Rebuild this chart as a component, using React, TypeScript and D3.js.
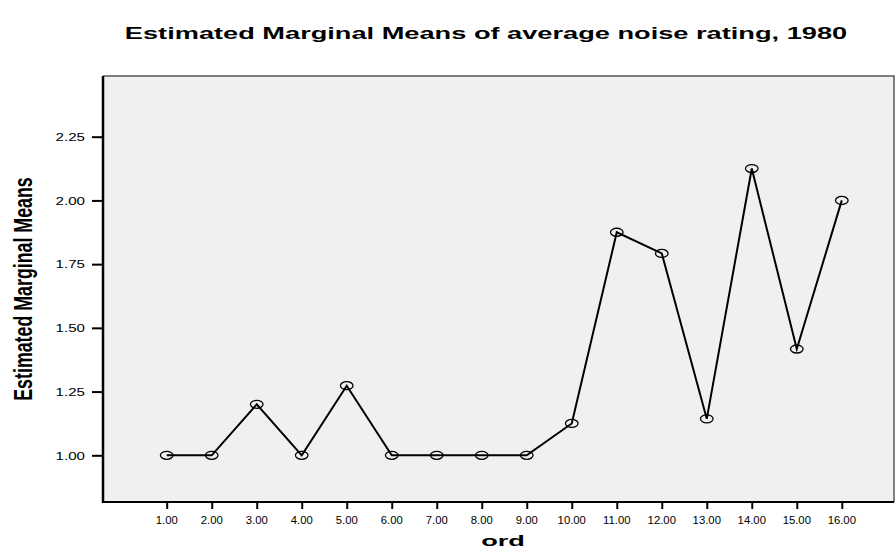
import * as React from "react";
import * as d3 from "d3";

// ord levels and estimated marginal means
const ordLevels: number[] = [1, 2, 3, 4, 5, 6, 7, 8, 9, 10, 11, 12, 13, 14, 15, 16];
const marginalMeans: number[] = [1.0, 1.0, 1.2, 1.0, 1.273, 1.0, 1.0, 1.0, 1.0, 1.125, 1.875, 1.792, 1.143, 2.125, 1.417, 2.0];
const yTickValues: number[] = [1.0, 1.25, 1.5, 1.75, 2.0, 2.25];

const titleText: string = "Estimated Marginal Means of average noise rating, 1980";
const yLabelText: string = "Estimated Marginal Means";
const xLabelText: string = "ord";

type Frame = {
  left: number;
  right: number;
  top: number;
  bottom: number;
};

const FONT: string = "'Liberation Sans', Arial, sans-serif";

export default class App extends React.PureComponent {
  private svgRef: React.RefObject<SVGSVGElement> = React.createRef<SVGSVGElement>();
  private width: number = 895;
  private height: number = 550;
  private frame: Frame = { left: 103, right: 894, top: 76, bottom: 502 };

  public componentDidMount(): void {
    this.drawChart();
  }

  public render(): JSX.Element {
    return <svg ref={this.svgRef}
              width={this.width}
              height={this.height}
              style={{ position: "absolute", left: 0, top: 0, background: "#ffffff" }}/>;
  }

  private drawChart(): void {
    const svg = d3.select(this.svgRef.current);
    svg.selectAll("*").remove();
    const f: Frame = this.frame;

    // x: 1.00 sits at 166.7, 16.00 at 841.7
    const x = d3.scaleLinear().domain([-0.4156, 17.16]).range([f.left, f.right]);
    const y = d3.scaleLinear().domain([0.8168, 2.4881]).range([f.bottom, f.top]);

    // title
    svg.append("g")
        .attr("transform", `translate(486, 39) scale(1.6, 1)`)
        .append("text")
        .attr("text-anchor", "middle")
        .style("font-family", FONT)
        .style("font-weight", "bold")
        .style("font-size", "17px")
        .text(titleText);

    // plot background
    svg.append("rect")
        .attr("x", f.left)
        .attr("y", f.top)
        .attr("width", f.right - f.left)
        .attr("height", f.bottom - f.top)
        .style("fill", "#f0f0f0");

    // thin top / right borders
    svg.append("path")
        .attr("d", `M${f.left},${f.top}H${f.right}V${f.bottom}`)
        .style("fill", "none")
        .style("stroke", "#555555")
        .style("stroke-width", 1.5);

    // y axis
    const yAxis = d3.axisLeft(y)
        .tickValues(yTickValues)
        .tickSize(11)
        .tickFormat(() => "");
    const yg = svg.append("g")
        .attr("transform", `translate(${f.left}, 0)`)
        .call(yAxis);
    yg.select(".domain").remove();
    yg.selectAll(".tick line").style("stroke", "#000").style("stroke-width", 2);

    yTickValues.forEach((v: number) => {
      svg.append("g")
          .attr("transform", `translate(85, ${y(v) + 4.3}) scale(1.28, 1)`)
          .append("text")
          .attr("text-anchor", "end")
          .style("font-family", FONT)
          .style("font-size", "11.8px")
          .style("fill", "#000")
          .text(d3.format(".2f")(v));
    });

    // x axis
    const xAxis = d3.axisBottom(x)
        .tickValues(ordLevels)
        .tickSize(7)
        .tickFormat(() => "");
    const xg = svg.append("g")
        .attr("transform", `translate(0, ${f.bottom})`)
        .call(xAxis);
    xg.select(".domain").remove();
    xg.selectAll(".tick line").style("stroke", "#000").style("stroke-width", 2);

    ordLevels.forEach((v: number) => {
      svg.append("g")
          .attr("transform", `translate(${x(v)}, 524) scale(1.1, 1)`)
          .append("text")
          .attr("text-anchor", "middle")
          .style("font-family", FONT)
          .style("font-size", "10.3px")
          .style("fill", "#000")
          .text(d3.format(".2f")(v));
    });

    // axis lines
    svg.append("line")
        .attr("x1", f.left).attr("x2", f.left)
        .attr("y1", f.top).attr("y2", f.bottom + 1)
        .style("stroke", "#000").style("stroke-width", 2.5);
    svg.append("line")
        .attr("x1", f.left).attr("x2", f.right)
        .attr("y1", f.bottom).attr("y2", f.bottom)
        .style("stroke", "#000").style("stroke-width", 2);

    // axis titles
    svg.append("g")
        .attr("transform", `translate(32, ${(f.top + f.bottom) / 2}) scale(1.5, 1) rotate(-90)`)
        .append("text")
        .attr("text-anchor", "middle")
        .style("font-family", FONT)
        .style("font-weight", "bold")
        .style("font-size", "17.8px")
        .text(yLabelText);

    svg.append("g")
        .attr("transform", `translate(503, 546) scale(1.75, 1)`)
        .append("text")
        .attr("text-anchor", "middle")
        .style("font-family", FONT)
        .style("font-weight", "bold")
        .style("font-size", "15.5px")
        .text(xLabelText);

    // line and markers
    const pts: [number, number][] = ordLevels.map((o: number, i: number) => [o, marginalMeans[i]]);
    const line = d3.line<[number, number]>()
        .x((d: [number, number]) => x(d[0]))
        .y((d: [number, number]) => y(d[1]));

    svg.append("path")
        .datum(pts)
        .attr("d", line)
        .style("fill", "none")
        .style("stroke", "#000")
        .style("stroke-width", 2);

    svg.selectAll(".marker")
        .data(pts)
        .enter()
        .append("ellipse")
        .attr("class", "marker")
        .attr("cx", (d: [number, number]) => x(d[0]))
        .attr("cy", (d: [number, number]) => y(d[1]))
        .attr("rx", 6.3)
        .attr("ry", 4)
        .style("fill", "none")
        .style("stroke", "#000")
        .style("stroke-width", 1.3);
  }
}
